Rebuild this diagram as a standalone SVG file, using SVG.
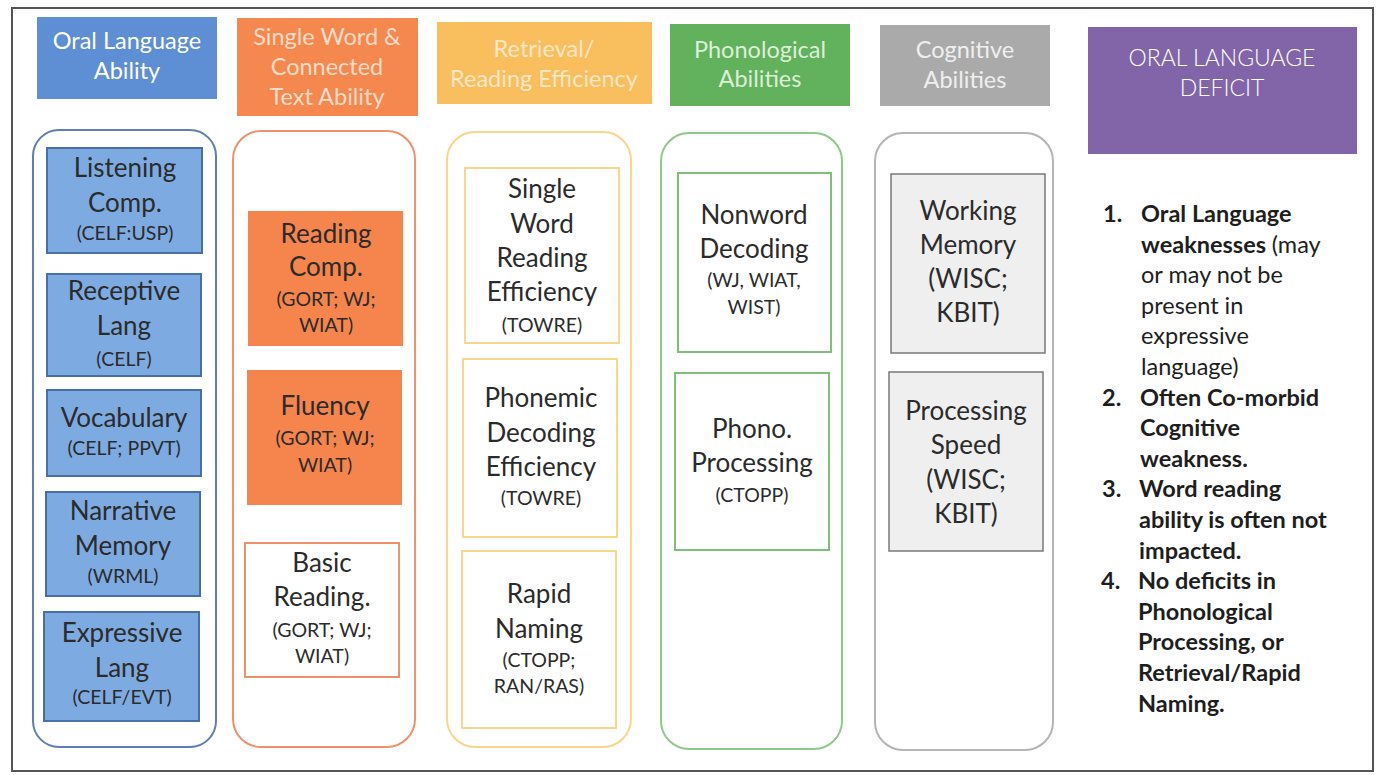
<svg xmlns="http://www.w3.org/2000/svg" width="1377" height="775" viewBox="0 0 1377 775">
<style>
text{font-family:Lato,"Open Sans","Liberation Sans",sans-serif;text-anchor:middle}
.hd{font-size:23.5px;fill:#fff}
.big{font-size:26px;fill:#2b2b2b}
.sm{font-size:19.5px;fill:#2b2b2b}
.col{fill:#fff;stroke-width:2}
.list{font-size:23.5px;font-weight:bold;fill:#1e1e1e;text-anchor:start}
.reg{font-weight:normal}
</style>
<rect x="0" y="0" width="1377" height="775" fill="#fff"/>
<rect x="12" y="8" width="1361" height="763" fill="none" stroke="#555" stroke-width="2"/>

<g id="hdr-oral">
<rect x="37" y="17" width="180" height="82" fill="#5E8ED4"/>
<text class="hd" x="127" y="49">Oral Language</text>
<text class="hd" x="127" y="79">Ability</text>
</g>
<g id="hdr-single">
<rect x="237" y="18" width="181" height="98" fill="#F5884F"/>
<text class="hd" x="327" y="45" style="fill:#FBDCC8">Single Word &amp;</text>
<text class="hd" x="327" y="75" style="fill:#FBDCC8">Connected</text>
<text class="hd" x="327" y="105" style="fill:#FBDCC8">Text Ability</text>
</g>
<g id="hdr-retrieval">
<rect x="437" y="22" width="215" height="82" fill="#F9BE5E"/>
<text class="hd" x="544" y="57" style="fill:#FDE8C6">Retrieval/</text>
<text class="hd" x="544" y="87" style="fill:#FDE8C6">Reading Efficiency</text>
</g>
<g id="hdr-phono">
<rect x="670" y="24" width="180" height="82" fill="#62B15C"/>
<text class="hd" x="760" y="58" style="fill:#DCEFD8">Phonological</text>
<text class="hd" x="760" y="87" style="fill:#DCEFD8">Abilities</text>
</g>
<g id="hdr-cog">
<rect x="880" y="25" width="170" height="81" fill="#AAAAAA"/>
<text class="hd" x="965" y="58" style="fill:#EFEFEF">Cognitive</text>
<text class="hd" x="965" y="88" style="fill:#EFEFEF">Abilities</text>
</g>
<g id="hdr-deficit">
<rect x="1088" y="27" width="269" height="127" fill="#8165A8"/>
<text class="hd" x="1222" y="66" style="font-weight:300;font-size:23px">ORAL LANGUAGE</text>
<text class="hd" x="1222" y="96" style="font-weight:300;font-size:23px">DEFICIT</text>
</g>

<g id="col-oral">
<rect class="col" x="33" y="130" width="183" height="617" rx="26" stroke="#5F7DB6"/>
<g id="listening">
<rect x="47" y="148" width="155" height="105" fill="#7EAAE2" stroke="#4A6EA6" stroke-width="2"/>
<text class="big" x="125" y="177">Listening</text>
<text class="big" x="125" y="212">Comp.</text>
<text class="sm" x="125" y="240">(CELF:USP)</text>
</g>
<g id="receptive">
<rect x="47" y="274" width="154" height="102" fill="#7EAAE2" stroke="#4A6EA6" stroke-width="2"/>
<text class="big" x="124" y="300">Receptive</text>
<text class="big" x="124" y="335">Lang</text>
<text class="sm" x="124" y="366">(CELF)</text>
</g>
<g id="vocabulary">
<rect x="47" y="390" width="154" height="86" fill="#7EAAE2" stroke="#4A6EA6" stroke-width="2"/>
<text class="big" x="124" y="427">Vocabulary</text>
<text class="sm" x="124" y="455">(CELF; PPVT)</text>
</g>
<g id="narrative">
<rect x="46" y="492" width="154" height="104" fill="#7EAAE2" stroke="#4A6EA6" stroke-width="2"/>
<text class="big" x="123" y="520">Narrative</text>
<text class="big" x="123" y="555">Memory</text>
<text class="sm" x="123" y="583">(WRML)</text>
</g>
<g id="expressive">
<rect x="44" y="612" width="155" height="109" fill="#7EAAE2" stroke="#4A6EA6" stroke-width="2"/>
<text class="big" x="122" y="642">Expressive</text>
<text class="big" x="122" y="677">Lang</text>
<text class="sm" x="122" y="704">(CELF/EVT)</text>
</g>
</g>

<g id="col-single">
<rect class="col" x="233" y="131" width="182" height="616" rx="28" stroke="#F0916B"/>
<g id="readingcomp">
<rect x="248" y="211" width="155" height="135" fill="#F5854C"/>
<text class="big" x="326" y="243">Reading</text>
<text class="big" x="326" y="276">Comp.</text>
<text class="sm" x="326" y="306">(GORT; WJ;</text>
<text class="sm" x="326" y="332">WIAT)</text>
</g>
<g id="fluency">
<rect x="247" y="370" width="155" height="135" fill="#F5854C"/>
<text class="big" x="325" y="415">Fluency</text>
<text class="sm" x="325" y="445">(GORT; WJ;</text>
<text class="sm" x="325" y="472">WIAT)</text>
</g>
<g id="basic">
<rect x="245" y="543" width="154" height="134" fill="#fff" stroke="#F0916B" stroke-width="2"/>
<text class="big" x="322" y="572">Basic</text>
<text class="big" x="322" y="606">Reading.</text>
<text class="sm" x="322" y="637">(GORT; WJ;</text>
<text class="sm" x="322" y="663">WIAT)</text>
</g>
</g>

<g id="col-retrieval">
<rect class="col" x="447" y="132" width="184" height="615" rx="28" stroke="#F8D68C"/>
<g id="swre">
<rect x="465" y="168" width="154" height="175" fill="#fff" stroke="#F8D68C" stroke-width="2"/>
<text class="big" x="542" y="198">Single</text>
<text class="big" x="542" y="233">Word</text>
<text class="big" x="542" y="267">Reading</text>
<text class="big" x="542" y="301">Efficiency</text>
<text class="sm" x="542" y="332">(TOWRE)</text>
</g>
<g id="pde">
<rect x="463" y="359" width="154" height="178" fill="#fff" stroke="#F8D68C" stroke-width="2"/>
<text class="big" x="541" y="407">Phonemic</text>
<text class="big" x="541" y="442">Decoding</text>
<text class="big" x="541" y="476">Efficiency</text>
<text class="sm" x="541" y="505">(TOWRE)</text>
</g>
<g id="rapid">
<rect x="462" y="551" width="154" height="177" fill="#fff" stroke="#F8D68C" stroke-width="2"/>
<text class="big" x="539" y="603">Rapid</text>
<text class="big" x="539" y="638">Naming</text>
<text class="sm" x="539" y="667">(CTOPP;</text>
<text class="sm" x="539" y="693">RAN/RAS)</text>
</g>
</g>

<g id="col-phono">
<rect class="col" x="661" y="133" width="181" height="616" rx="28" stroke="#8FCA8B"/>
<g id="nonword">
<rect x="678" y="173" width="153" height="179" fill="#fff" stroke="#7FBF7B" stroke-width="2"/>
<text class="big" x="754" y="224">Nonword</text>
<text class="big" x="754" y="258">Decoding</text>
<text class="sm" x="754" y="287">(WJ, WIAT,</text>
<text class="sm" x="754" y="314">WIST)</text>
</g>
<g id="phonoproc">
<rect x="675" y="373" width="154" height="177" fill="#fff" stroke="#7FBF7B" stroke-width="2"/>
<text class="big" x="752" y="438">Phono.</text>
<text class="big" x="752" y="472">Processing</text>
<text class="sm" x="752" y="502">(CTOPP)</text>
</g>
</g>

<g id="col-cog">
<rect class="col" x="875" y="133" width="178" height="617" rx="28" stroke="#B5B5B5"/>
<g id="working">
<rect x="891" y="174" width="154" height="179" fill="#EFEFEF" stroke="#7A7A7A" stroke-width="1.5"/>
<text class="big" x="968" y="220">Working</text>
<text class="big" x="968" y="254">Memory</text>
<text class="big" x="968" y="288">(WISC;</text>
<text class="big" x="968" y="322">KBIT)</text>
</g>
<g id="procspeed">
<rect x="889" y="372" width="154" height="179" fill="#EFEFEF" stroke="#7A7A7A" stroke-width="1.5"/>
<text class="big" x="966" y="420">Processing</text>
<text class="big" x="966" y="454">Speed</text>
<text class="big" x="966" y="489">(WISC;</text>
<text class="big" x="966" y="523">KBIT)</text>
</g>
</g>

<g id="deficit-list">
<text class="list" x="1103" y="222">1.</text>
<text class="list" x="1141" y="222">Oral Language</text>
<text class="list" x="1141" y="253">weaknesses <tspan class="reg">(may</tspan></text>
<text class="list reg" x="1141" y="283">or may not be</text>
<text class="list reg" x="1141" y="314">present in</text>
<text class="list reg" x="1141" y="344">expressive</text>
<text class="list reg" x="1141" y="375">language)</text>
<text class="list" x="1102" y="406">2.</text>
<text class="list" x="1140" y="406">Often Co-morbid</text>
<text class="list" x="1140" y="436">Cognitive</text>
<text class="list" x="1140" y="467">weakness.</text>
<text class="list" x="1102" y="497">3.</text>
<text class="list" x="1139" y="497">Word reading</text>
<text class="list" x="1139" y="528">ability is often not</text>
<text class="list" x="1139" y="559">impacted.</text>
<text class="list" x="1101" y="589">4.</text>
<text class="list" x="1138" y="589">No deficits in</text>
<text class="list" x="1138" y="620">Phonological</text>
<text class="list" x="1138" y="650">Processing, or</text>
<text class="list" x="1138" y="681">Retrieval/Rapid</text>
<text class="list" x="1138" y="712">Naming.</text>
</g>
<g id="connectors"></g>
</svg>
